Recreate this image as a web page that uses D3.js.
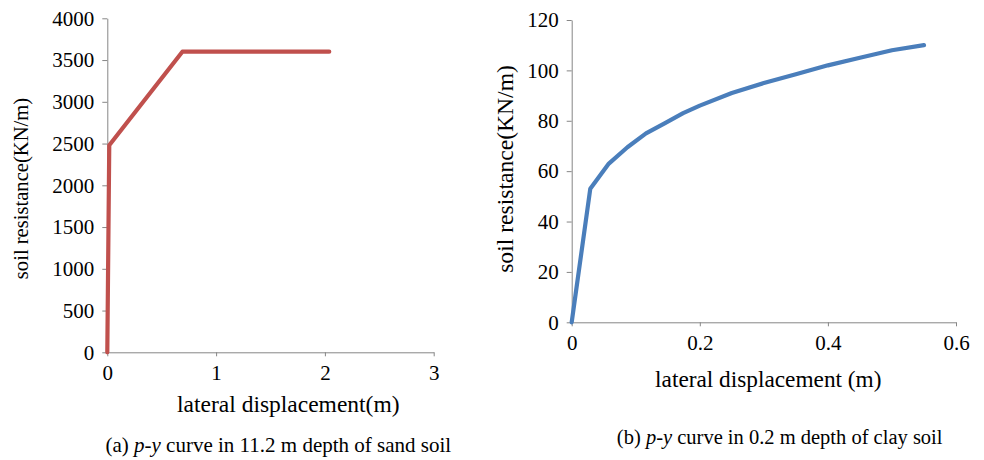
<!DOCTYPE html>
<html>
<head>
<meta charset="utf-8">
<script src="https://cdn.jsdelivr.net/npm/d3@7"></script>
<style>
  html, body { margin: 0; padding: 0; background: #fff; }
  svg { display: block; }
</style>
</head>
<body>
<svg id="chart" width="984" height="460"></svg>
<script>
// (a) sand soil, 11.2 m depth
const sandDisp = [0, 0.018, 0.69, 2.04];
const sandResist = [0, 2480, 3600, 3600];
const sandXTicks = [0, 1, 2, 3];
const sandYTicks = [0, 500, 1000, 1500, 2000, 2500, 3000, 3500, 4000];

// (b) clay soil, 0.2 m depth
const clayDisp = [0, 0.029, 0.058, 0.087, 0.116, 0.145, 0.174, 0.2, 0.25, 0.3, 0.35, 0.4, 0.45, 0.5, 0.55];
const clayResist = [0, 53, 63, 69.5, 75, 79, 83, 86, 91, 95, 98.5, 102, 105, 108, 110];
const clayXTicks = [0, 0.2, 0.4, 0.6];
const clayYTicks = [0, 20, 40, 60, 80, 100, 120];

const serif = "'Liberation Serif', 'DejaVu Serif', serif";
const svg = d3.select("#chart");
const axisColor = "#868686";

function panel(cfg) {
  const x = d3.scaleLinear().domain(cfg.xDomain).range([cfg.left, cfg.right]);
  const y = d3.scaleLinear().domain(cfg.yDomain).range([cfg.bottom, cfg.top]);
  const g = svg.append("g");

  const xAxis = g.append("g")
    .attr("transform", `translate(0,${cfg.bottom})`)
    .call(d3.axisBottom(x).tickValues(cfg.xTicks).tickSize(4).tickSizeOuter(0)
      .tickPadding(9).tickFormat(d3.format(cfg.xFormat)));
  const yAxis = g.append("g")
    .attr("transform", `translate(${cfg.left},0)`)
    .call(d3.axisLeft(y).tickValues(cfg.yTicks).tickSize(5).tickSizeOuter(0)
      .tickPadding(8).tickFormat(d3.format("d")));

  [xAxis, yAxis].forEach(a => {
    a.attr("font-family", null).attr("font-size", null);
    a.select(".domain").attr("stroke", axisColor).attr("stroke-width", 1);
    a.selectAll(".tick line").attr("stroke", axisColor).attr("stroke-width", 1);
    a.selectAll(".tick text")
      .style("font-family", serif)
      .style("font-size", cfg.tickFont + "px")
      .attr("fill", "#000");
  });

  const pts = cfg.xs.map((d, i) => [d, cfg.ys[i]]);
  g.append("path")
    .datum(pts)
    .attr("fill", "none")
    .attr("stroke", cfg.color)
    .attr("stroke-width", 4.2)
    .attr("stroke-linejoin", "round")
    .attr("stroke-linecap", "round")
    .attr("d", d3.line().x(d => x(d[0])).y(d => y(d[1])));

  g.append("text")
    .attr("x", cfg.xTitlePos[0]).attr("y", cfg.xTitlePos[1])
    .attr("text-anchor", "middle")
    .style("font-family", serif)
    .style("font-size", cfg.xTitleFont + "px")
    .text(cfg.xTitle);

  g.append("text")
    .attr("transform", `translate(${cfg.yTitlePos[0]},${cfg.yTitlePos[1]}) rotate(-90)`)
    .attr("text-anchor", "middle")
    .style("font-family", serif)
    .style("font-size", cfg.yTitleFont + "px")
    .text("soil resistance(KN/m)");

  const cap = g.append("text")
    .attr("x", cfg.capPos[0]).attr("y", cfg.capPos[1])
    .attr("text-anchor", "middle")
    .style("font-family", serif)
    .style("font-size", cfg.capFont + "px");
  cap.append("tspan").text(cfg.capLead + " ");
  cap.append("tspan").style("font-style", "italic").text("p-y");
  cap.append("tspan").text(" " + cfg.capRest);
}

panel({
  xDomain: [0, 3], yDomain: [0, 4000],
  left: 107.3, right: 433.7, top: 18.3, bottom: 352.3,
  xTicks: sandXTicks, yTicks: sandYTicks, xFormat: "d",
  xs: sandDisp, ys: sandResist, color: "#c0504d",
  tickFont: 21,
  xTitle: "lateral displacement(m)", xTitlePos: [288.3, 412], xTitleFont: 23.5,
  yTitlePos: [28, 188.5], yTitleFont: 20.6,
  capLead: "(a)", capRest: "curve in 11.2 m depth of sand soil",
  capPos: [278.3, 452], capFont: 21
});

panel({
  xDomain: [0, 0.6], yDomain: [0, 120],
  left: 571.7, right: 956, top: 20, bottom: 322.3,
  xTicks: clayXTicks, yTicks: clayYTicks, xFormat: "",
  xs: clayDisp, ys: clayResist, color: "#4a7ebb",
  tickFont: 21,
  xTitle: "lateral displacement (m)", xTitlePos: [768.3, 387], xTitleFont: 23.3,
  yTitlePos: [513, 169], yTitleFont: 23.6,
  capLead: "(b)", capRest: "curve in 0.2 m depth of clay soil",
  capPos: [779.7, 444], capFont: 20.5
});
</script>
</body>
</html>
